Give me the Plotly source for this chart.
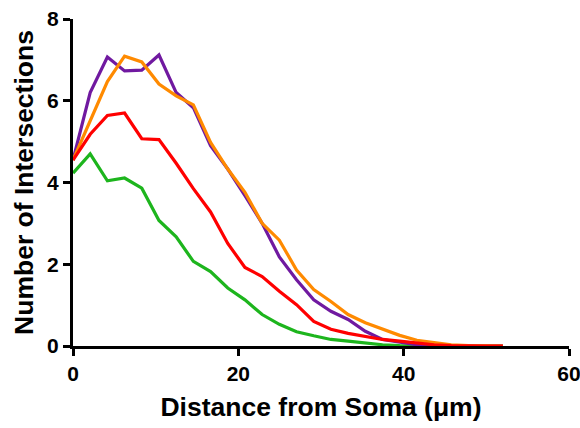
import plotly.graph_objects as go

step = 2.08
n_points = 26
distance = [round(i * step, 2) for i in range(n_points)]

purple_vals = [4.55, 6.2, 7.07, 6.73, 6.75, 7.12, 6.2, 5.83, 4.9, 4.33, 3.68, 3.0, 2.18,
               1.62, 1.13, 0.85, 0.65, 0.36, 0.16, 0.1, 0.03, 0, 0, 0, 0, 0]
orange_vals = [4.55, 5.5, 6.47, 7.09, 6.95, 6.41, 6.12, 5.9, 4.98, 4.33, 3.76, 3.0, 2.59,
               1.86, 1.38, 1.09, 0.77, 0.57, 0.41, 0.26, 0.14, 0.08, 0.03, 0.01, 0, 0]
red_vals = [4.55, 5.18, 5.64, 5.70, 5.07, 5.05, 4.47, 3.85, 3.28, 2.51, 1.92, 1.7, 1.34,
            1.01, 0.6, 0.41, 0.31, 0.23, 0.16, 0.12, 0.07, 0.03, 0.01, 0, 0, 0]
green_vals = [4.23, 4.7, 4.04, 4.11, 3.86, 3.07, 2.67, 2.07, 1.82, 1.42, 1.13, 0.77, 0.53,
              0.35, 0.25, 0.16, 0.12, 0.07, 0.03, 0.01, 0, 0, 0, 0, 0, 0]

series = [
    ("Green", green_vals, "#1DB51D"),
    ("Purple", purple_vals, "#7019A0"),
    ("Orange", orange_vals, "#FF8A00"),
    ("Red", red_vals, "#FF0000"),
]

fig = go.Figure()
for name, vals, color in series:
    fig.add_trace(go.Scatter(x=distance, y=vals, mode="lines", name=name,
                             line=dict(color=color, width=3.2), showlegend=False))

tickfont = dict(family="Liberation Sans, Arial, sans-serif", size=21, color="black", weight="bold")
titlefont = dict(family="Liberation Sans, Arial, sans-serif", size=26.5, color="black", weight="bold")

fig.update_layout(
    width=580, height=428,
    margin=dict(l=73, r=11, t=19, b=82),
    paper_bgcolor="white", plot_bgcolor="white",
    xaxis=dict(range=[0, 60], tickvals=[0, 20, 40, 60], ticktext=["0", "20", "40", "60"],
               automargin=False, ticklabeloverflow="allow",
               showline=True, linecolor="black", linewidth=3, ticks="outside",
               ticklen=7, tickwidth=3, tickcolor="black", showgrid=False, zeroline=False,
               tickfont=tickfont,
               title=dict(text="Distance from Soma (μm)", font=titlefont, standoff=14)),
    yaxis=dict(range=[0, 8], tickvals=[0, 2, 4, 6, 8], ticktext=["0", "2", "4", "6", "8"],
               automargin=False, ticklabeloverflow="allow",
               showline=True, linecolor="black", linewidth=3, ticks="outside",
               ticklen=7, tickwidth=3, tickcolor="black", showgrid=False, zeroline=False,
               tickfont=tickfont,
               title=dict(text="Number of Intersections", font=titlefont, standoff=6)),
)

fig.write_html("out.html", config={"displayModeBar": False},
               post_script="document.body.style.margin='0';")
